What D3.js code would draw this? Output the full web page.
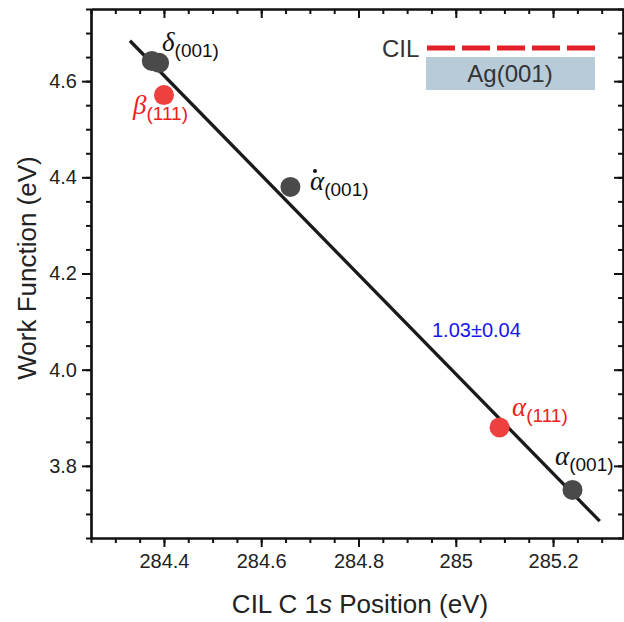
<!DOCTYPE html>
<html>
<head>
<meta charset="utf-8">
<script src="https://cdn.jsdelivr.net/npm/d3@7"></script>
<style>
  body { margin: 0; background: #fff; }
  text { font-family: "Liberation Sans", Arial, sans-serif; }
</style>
</head>
<body>
<svg id="chart" width="624" height="622"></svg>
<script>
// data
var pointX = [284.375, 284.39, 284.40, 284.66, 285.09, 285.24];
var pointY = [4.642, 4.638, 4.571, 4.38, 3.88, 3.75];
var pointGroup = ["001", "001", "111", "001", "111", "001"];
var fitX = [284.33, 285.296];
var fitY = [4.684, 3.685];
var xTicks = [284.4, 284.6, 284.8, 285, 285.2];
var yTicks = [3.8, 4.0, 4.2, 4.4, 4.6];
var slopeLabel = "1.03±0.04";

var svg = d3.select("#chart");
var mLeft = 91, mRight = 626, mTop = 9, mBottom = 538;

var x = d3.scaleLinear().domain([284.25, 285.35]).range([mLeft, mRight]);
var y = d3.scaleLinear().domain([3.65, 4.75]).range([mBottom, mTop]);

var xMinor = d3.range(284.25, 285.351, 0.05);
var yMinor = d3.range(3.65, 4.751, 0.05);

function axisStyle(g) {
  g.select(".domain").attr("stroke", "#111").attr("stroke-width", 2.2);
  g.selectAll(".tick line").attr("stroke", "#111").attr("stroke-width", 2);
  g.selectAll(".tick text").attr("font-size", 20).attr("fill", "#222");
}

// minor ticks first
svg.append("g").attr("transform", "translate(0," + mBottom + ")")
  .call(d3.axisBottom(x).tickValues(xMinor).tickSize(5).tickFormat("").tickSizeOuter(0)).call(axisStyle);
svg.append("g").attr("transform", "translate(0," + mTop + ")")
  .call(d3.axisTop(x).tickValues(xMinor).tickSize(-5).tickFormat("").tickSizeOuter(0)).call(axisStyle);
svg.append("g").attr("transform", "translate(" + mLeft + ",0)")
  .call(d3.axisLeft(y).tickValues(yMinor).tickSize(5).tickFormat("").tickSizeOuter(0)).call(axisStyle);
svg.append("g").attr("transform", "translate(" + (mRight - 3) + ",0)")
  .call(d3.axisRight(y).tickValues(yMinor).tickSize(-5).tickFormat("").tickSizeOuter(0)).call(axisStyle);

// major ticks
svg.append("g").attr("transform", "translate(0," + mBottom + ")")
  .call(d3.axisBottom(x).tickValues(xTicks).tickSize(9).tickPadding(7).tickFormat(d3.format("")).tickSizeOuter(0))
  .call(axisStyle);
svg.append("g").attr("transform", "translate(0," + mTop + ")")
  .call(d3.axisTop(x).tickValues(xTicks).tickSize(-9).tickFormat("").tickSizeOuter(0)).call(axisStyle);
svg.append("g").attr("transform", "translate(" + mLeft + ",0)")
  .call(d3.axisLeft(y).tickValues(yTicks).tickSize(9).tickPadding(5).tickFormat(d3.format(".1f")).tickSizeOuter(0))
  .call(axisStyle);
svg.append("g").attr("transform", "translate(" + (mRight - 3) + ",0)")
  .call(d3.axisRight(y).tickValues(yTicks).tickSize(-9).tickFormat("").tickSizeOuter(0)).call(axisStyle);

// axis titles
svg.append("text").attr("x", 360).attr("y", 613).attr("text-anchor", "middle")
  .attr("font-size", 26).attr("fill", "#222")
  .html('CIL C 1<tspan font-style="italic">s</tspan> Position (eV)');
svg.append("text").attr("transform", "translate(36,268) rotate(-90)").attr("text-anchor", "middle")
  .attr("font-size", 26).attr("fill", "#222").text("Work Function (eV)");

// fit line
svg.append("line")
  .attr("x1", x(fitX[0])).attr("y1", y(fitY[0]))
  .attr("x2", x(fitX[1])).attr("y2", y(fitY[1]))
  .attr("stroke", "#1a1a1a").attr("stroke-width", 3.3);

// points
svg.append("g").selectAll("circle")
  .data(pointX.map(function (d, i) { return { x: d, y: pointY[i], g: pointGroup[i] }; }))
  .join("circle")
  .attr("cx", function (d) { return x(d.x); })
  .attr("cy", function (d) { return y(d.y); })
  .attr("r", 10)
  .attr("fill", function (d) { return d.g === "111" ? "#ef4040" : "#4a4a4a"; });

// point labels
function label(px, py, greek, sub, color, dot) {
  var t = svg.append("text").attr("x", px).attr("y", py).attr("fill", color);
  t.append("tspan").attr("font-family", "'Liberation Serif', 'Times New Roman', serif").attr("font-style", "italic")
    .attr("font-size", 27).text(greek);
  t.append("tspan").attr("font-size", 19).attr("dy", 6).text(sub);
  if (dot) {
    svg.append("circle").attr("cx", px + 5).attr("cy", py - 19).attr("r", 2).attr("fill", color);
  }
}
label(162, 51, "δ", "(001)", "#111");
label(133, 114, "β", "(111)", "#ee2020");
label(310, 190, "α", "(001)", "#111", true);
label(512, 416, "α", "(111)", "#ee2020");
label(555, 465, "α", "(001)", "#111");

svg.append("text").attr("x", 432).attr("y", 337).attr("font-size", 20).attr("fill", "#1515ee")
  .text(slopeLabel);

// inset legend
svg.append("text").attr("x", 382).attr("y", 57).attr("font-size", 24).attr("fill", "#333").text("CIL");
svg.append("line").attr("x1", 427).attr("x2", 595).attr("y1", 48).attr("y2", 48)
  .attr("stroke", "#e32029").attr("stroke-width", 5).attr("stroke-dasharray", "28,7");
svg.append("rect").attr("x", 426).attr("y", 57).attr("width", 169).attr("height", 33).attr("fill", "#b8cbd8");
svg.append("text").attr("x", 510).attr("y", 82).attr("text-anchor", "middle")
  .attr("font-size", 24).attr("fill", "#333").text("Ag(001)");
</script>
</body>
</html>
